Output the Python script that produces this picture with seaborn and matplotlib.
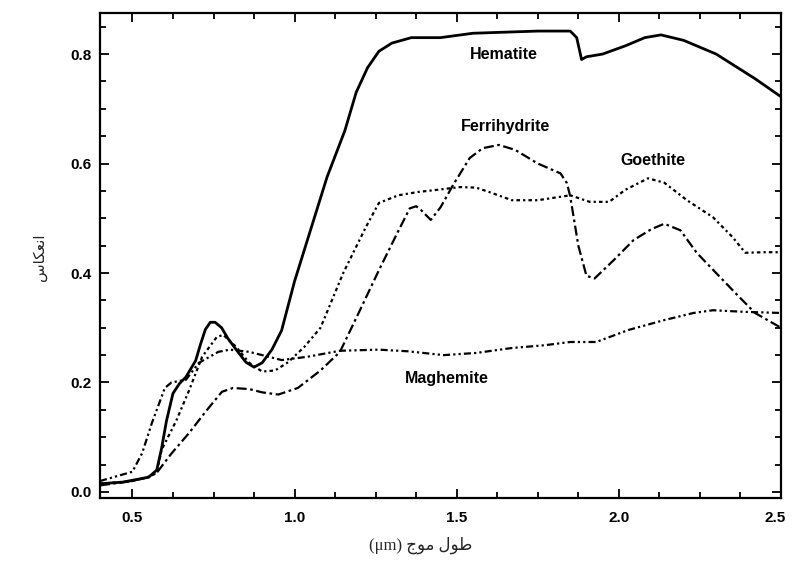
import numpy as np
import pandas as pd
import matplotlib
matplotlib.use("Agg")
import matplotlib.pyplot as plt
import matplotlib.transforms as mtransforms
from matplotlib.ticker import MultipleLocator, FormatStrFormatter
import seaborn as sns

# ---------------- data ----------------
hematite_x = [0.40, 0.47, 0.55, 0.575, 0.59, 0.605, 0.625, 0.645, 0.665, 0.695, 0.71, 0.725,
              0.74, 0.755, 0.775, 0.795, 0.82, 0.85, 0.875, 0.90, 0.93, 0.96, 1.00, 1.05,
              1.10, 1.155, 1.19, 1.225, 1.26, 1.30, 1.36, 1.45, 1.55, 1.65, 1.75, 1.85, 1.87,
              1.885, 1.90, 1.95, 2.02, 2.08, 2.13, 2.20, 2.30, 2.42, 2.50]
hematite_y = [0.015, 0.018, 0.027, 0.04, 0.08, 0.13, 0.18, 0.198, 0.21, 0.24, 0.27, 0.297,
              0.31, 0.31, 0.30, 0.28, 0.26, 0.237, 0.228, 0.236, 0.26, 0.295, 0.385, 0.48,
              0.575, 0.66, 0.73, 0.775, 0.805, 0.82, 0.83, 0.83, 0.838, 0.84, 0.842, 0.842,
              0.83, 0.79, 0.795, 0.80, 0.815, 0.83, 0.835, 0.825, 0.80, 0.755, 0.722]

ferrihydrite_x = [0.40, 0.50, 0.55, 0.575, 0.62, 0.675, 0.73, 0.776, 0.81, 0.86, 0.90, 0.95,
                  1.01, 1.08, 1.14, 1.20, 1.26, 1.31, 1.355, 1.375, 1.39, 1.42, 1.45, 1.49, 1.54,
                  1.58, 1.63, 1.68, 1.75, 1.82, 1.84, 1.85, 1.862, 1.875, 1.90, 1.925, 1.985,
                  2.045, 2.10, 2.14, 2.19, 2.24, 2.30, 2.36, 2.42, 2.50]
ferrihydrite_y = [0.012, 0.02, 0.027, 0.035, 0.07, 0.108, 0.15, 0.183, 0.19, 0.188, 0.182, 0.178,
                  0.19, 0.222, 0.256, 0.33, 0.405, 0.465, 0.518, 0.522, 0.515, 0.497, 0.52, 0.562,
                  0.61, 0.628, 0.634, 0.625, 0.60, 0.582, 0.564, 0.54, 0.497, 0.45, 0.395, 0.39,
                  0.424, 0.46, 0.48, 0.49, 0.478, 0.437, 0.40, 0.363, 0.327, 0.30]

goethite_x = [0.40, 0.50, 0.55, 0.575, 0.59, 0.635, 0.675, 0.715, 0.76, 0.78, 0.82, 0.86, 0.90,
              0.94, 0.98, 1.03, 1.08, 1.15, 1.22, 1.26, 1.32, 1.38, 1.44, 1.51, 1.56, 1.60, 1.67,
              1.75, 1.85, 1.91, 1.97, 2.02, 2.09, 2.14, 2.21, 2.29, 2.35, 2.39, 2.45, 2.50]
goethite_y = [0.015, 0.02, 0.028, 0.035, 0.077, 0.13, 0.186, 0.247, 0.283, 0.287, 0.265, 0.236,
              0.22, 0.222, 0.237, 0.265, 0.30, 0.40, 0.484, 0.528, 0.542, 0.548, 0.552, 0.557,
              0.556, 0.548, 0.533, 0.533, 0.542, 0.53, 0.53, 0.552, 0.573, 0.565, 0.533, 0.502,
              0.466, 0.437, 0.438, 0.438]

maghemite_x = [0.40, 0.50, 0.53, 0.56, 0.60, 0.62, 0.665, 0.705, 0.765, 0.80, 0.86, 0.96, 1.04,
               1.14, 1.26, 1.35, 1.46, 1.56, 1.67, 1.77, 1.85, 1.93, 2.03, 2.14, 2.23, 2.29,
               2.39, 2.50]
maghemite_y = [0.02, 0.037, 0.071, 0.126, 0.19, 0.20, 0.205, 0.236, 0.256, 0.26, 0.256, 0.241,
               0.247, 0.258, 0.26, 0.257, 0.25, 0.254, 0.263, 0.268, 0.274, 0.274, 0.296, 0.314,
               0.327, 0.332, 0.329, 0.327]

minerals = ["Hematite", "Ferrihydrite", "Goethite", "Maghemite"]
label_x = [1.645, 1.65, 2.105, 1.47]
label_y = [0.80, 0.668, 0.605, 0.208]

x_ticks = [0.5, 1.0, 1.5, 2.0, 2.5]
y_ticks = [0.0, 0.2, 0.4, 0.6, 0.8]

x_label = "طول موج (μm)"
y_label = "انعکاس"

# ---------------- simple Arabic-script shaping for matplotlib ----------------
FORMS = {  # isolated, final, initial, medial
    'ا': ('\uFE8D', '\uFE8E', None, None),
    'ن': ('\uFEE5', '\uFEE6', '\uFEE7', '\uFEE8'),
    'ع': ('\uFEC9', '\uFECA', '\uFECB', '\uFECC'),
    'ک': ('\uFB8E', '\uFB8F', '\uFB90', '\uFB91'),
    'ك': ('\uFED9', '\uFEDA', '\uFEDB', '\uFEDC'),
    'س': ('\uFEB1', '\uFEB2', '\uFEB3', '\uFEB4'),
    'ط': ('\uFEC1', '\uFEC2', '\uFEC3', '\uFEC4'),
    'و': ('\uFEED', '\uFEEE', None, None),
    'ل': ('\uFEDD', '\uFEDE', '\uFEDF', '\uFEE0'),
    'م': ('\uFEE1', '\uFEE2', '\uFEE3', '\uFEE4'),
    'ج': ('\uFE9D', '\uFE9E', '\uFE9F', '\uFEA0'),
}


def shape_word(word):
    out = []
    for i, ch in enumerate(word):
        f = FORMS[ch]
        prev_joins = i > 0 and FORMS[word[i - 1]][2] is not None
        next_ok = f[2] is not None and i < len(word) - 1
        if prev_joins and next_ok:
            g = f[3]
        elif prev_joins:
            g = f[1]
        elif next_ok:
            g = f[2]
        else:
            g = f[0]
        out.append(g)
    return ''.join(reversed(out))


def visual(text):
    toks = text.split(' ')
    res = []
    for t in reversed(toks):
        if t and all(c in FORMS for c in t):
            res.append(shape_word(t))
        else:
            res.append(t)
    return ' '.join(res)


# ---------------- build long-form table ----------------
frames = []
for name, xs, ys in [("Hematite", hematite_x, hematite_y),
                     ("Ferrihydrite", ferrihydrite_x, ferrihydrite_y),
                     ("Goethite", goethite_x, goethite_y),
                     ("Maghemite", maghemite_x, maghemite_y)]:
    frames.append(pd.DataFrame({"wavelength": xs, "reflectance": ys, "mineral": name}))
df = pd.concat(frames, ignore_index=True)

sns.set_style("ticks")
plt.rcParams['font.family'] = ['Liberation Sans', 'DejaVu Sans']

fig = plt.figure(figsize=(7.92, 5.71), dpi=100)
ax = fig.add_axes([100 / 792, 1 - 498 / 571, 681 / 792, 485 / 571])

dash_map = {"Hematite": "",
            "Ferrihydrite": (4.5, 1.6, 1.2, 1.6),
            "Goethite": (1.6, 1.4, 1.0, 1.4),
            "Maghemite": (3.2, 1.4, 1.0, 1.4, 1.0, 1.4)}

sns.lineplot(data=df, x="wavelength", y="reflectance", hue="mineral", style="mineral",
             palette={m: "black" for m in minerals}, dashes=dash_map,
             estimator=None, sort=False, legend=False, linewidth=1.6, ax=ax)
for ln in ax.lines:
    if ln.get_linestyle() in ('-', 'solid'):
        ln.set_linewidth(2.0)

ax.set_xlim(0.4, 2.5)
ax.set_ylim(-0.011, 0.875)
ax.set_xticks(x_ticks)
ax.set_yticks(y_ticks)
ax.xaxis.set_minor_locator(MultipleLocator(0.125))
ax.yaxis.set_minor_locator(MultipleLocator(0.05))
ax.xaxis.set_major_formatter(FormatStrFormatter('%.1f'))
ax.yaxis.set_major_formatter(FormatStrFormatter('%.1f'))
ax.tick_params(which='both', direction='in', top=True, right=True, width=1.3, colors='black')
ax.tick_params(which='major', length=6.5)
ax.tick_params(which='minor', length=4)
ax.tick_params(axis='x', which='major', pad=9)
ax.tick_params(axis='y', which='major', pad=6)
xlabs = ax.get_xticklabels()
for lab in xlabs + ax.get_yticklabels():
    lab.set_fontweight('bold')
    lab.set_fontsize(11)
# nudge the last x tick label so it stays inside the canvas
shift = mtransforms.ScaledTranslation(-4 / 72, 0, fig.dpi_scale_trans)
xlabs[-1].set_transform(xlabs[-1].get_transform() + shift)
for sp in ax.spines.values():
    sp.set_linewidth(1.6)
    sp.set_color('black')
ax.set_xlabel("")
ax.set_ylabel("")

for name, tx, ty in zip(minerals, label_x, label_y):
    ax.text(tx, ty, name, ha='center', va='center', fontsize=11.5, fontweight='bold',
            color='black')

fig.text(421 / 792, 1 - 545 / 571, visual(x_label), ha='center', va='center', fontsize=12,
         family=['Liberation Serif', 'DejaVu Sans'])
fig.text(40 / 792, 1 - 257 / 571, visual(y_label), ha='center', va='center', fontsize=11,
         rotation=90, family=['DejaVu Sans'])

fig.savefig("out.png", dpi=100)
